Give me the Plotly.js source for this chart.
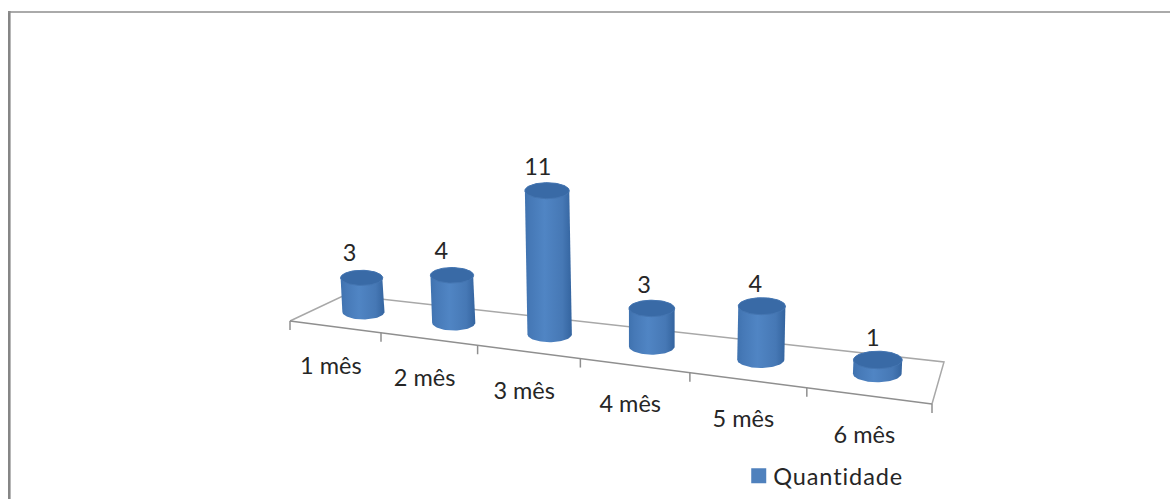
<!DOCTYPE html>
<html>
<head>
<meta charset="utf-8">
<script src="https://cdn.plot.ly/plotly-3.0.1.min.js"></script>
<style>
html,body{margin:0;padding:0;background:#fff}
#chart{width:1170px;height:499px}
/* tighter key-to-text gap and wider tracking for the legend entry */
.legendtext{letter-spacing:0.9px;transform:translateX(-5.5px)}
</style>
</head>
<body>
<div id="chart"></div>
<script>
// Chart data
const categories = ['1 mês', '2 mês', '3 mês', '4 mês', '5 mês', '6 mês'];
const quantidade = [3, 4, 11, 3, 4, 1];
const seriesName = 'Quantidade';

// Floor of the 3D scene in plot units: front-left, front-right, back-right, back-left
const FL = [290, 321], FR = [932, 404], BR = [944, 362], BL = [345, 295];
const FORESHORTEN = 1.211;   // spacing grows towards the viewer on the right

const n = categories.length;
function floorPoint(u, t) {
  const s = u / n;
  const q = s / (s + (1 - s) * FORESHORTEN);
  const fx = FL[0] + (FR[0] - FL[0]) * q, fy = FL[1] + (FR[1] - FL[1]) * q;
  const bx = BL[0] + (BR[0] - BL[0]) * q, by = BL[1] + (BR[1] - BL[1]) * q;
  return [fx + (bx - fx) * t, fy + (by - fy) * t];
}

const traces = [];
const lineTrace = (pts, color, width) => ({
  type: 'scatter', mode: 'lines', x: pts.map(p => p[0]), y: pts.map(p => p[1]),
  line: {color, width}, hoverinfo: 'skip', showlegend: false
});

// Floor outline and category ticks
traces.push(lineTrace([floorPoint(0, 0), floorPoint(0, 1), floorPoint(n, 1), floorPoint(n, 0)], '#a8a8a8', 1.5));
traces.push(lineTrace([floorPoint(0, 0), floorPoint(n, 0)], '#8f8f8f', 1.5));
for (let i = 0; i <= n; i++) {
  const p = floorPoint(i, 0);
  traces.push(lineTrace([p, [p[0], p[1] + 9]], '#8f8f8f', 1.5));
}

// Cylinders: geometry follows the value and the perspective at each category
const DEPTH = 0.55, FLAT = 0.36, STEPS = 40, RISE = 0.009;
const labelX = [], labelY = [], catX = [], catY = [];
quantidade.forEach((v, i) => {
  const c = floorPoint(i + 0.5, DEPTH);
  const spacing = Math.abs(floorPoint(i + 1, DEPTH)[0] - floorPoint(i, DEPTH)[0]);
  const r = 12.3 + 0.1 * spacing, ry = r * FLAT;
  const unit = 4.6 + 0.0735 * spacing;         // plot units per quantity at this depth
  const h = unit * v * (1 + RISE * v);         // higher points sit closer to the camera
  const topC = [c[0] + 0.00018 * (c[0] - 650) * h, c[1] - h];
  const body = [];
  for (let k = 0; k <= STEPS; k++) {           // lower rim, left to right
    const a = Math.PI * k / STEPS;
    body.push([c[0] - r * Math.cos(a), c[1] + ry * Math.sin(a)]);
  }
  for (let k = 0; k <= STEPS; k++) {           // upper rim, right to left
    const a = Math.PI * k / STEPS;
    body.push([topC[0] + r * Math.cos(a), topC[1] - ry * Math.sin(a)]);
  }
  body.push(body[0]);
  const cap = [];
  for (let k = 0; k <= 2 * STEPS; k++) {
    const a = Math.PI * k / STEPS;
    cap.push([topC[0] + r * Math.cos(a), topC[1] + ry * Math.sin(a)]);
  }
  traces.push({
    type: 'scatter', mode: 'lines', x: body.map(p => p[0]), y: body.map(p => p[1]),
    fill: 'toself', line: {width: 0, color: 'rgba(0,0,0,0)'},
    fillgradient: {type: 'horizontal',
      colorscale: [[0, '#3f72af'], [0.12, '#4679b7'], [0.42, '#5085c4'], [0.8, '#4678b5'], [1, '#34649f']]},
    hoverinfo: 'skip', showlegend: false
  });
  traces.push({
    type: 'scatter', mode: 'lines', x: cap.map(p => p[0]), y: cap.map(p => p[1]),
    fill: 'toself', fillcolor: '#396aa6', line: {width: 1, color: '#4576b2'},
    hoverinfo: 'skip', showlegend: false
  });
  labelX.push(topC[0] - 12 + 1.4 * i);
  labelY.push(topC[1] - (23 - 0.7 * i));
  const m = floorPoint(i + 0.5, 0);
  catX.push(m[0] - 4);
  catY.push(m[1] + 41);
});

const TEXT_FONT = {family: 'Lato, "Open Sans", sans-serif', size: 23.5, color: '#262626'};

// Value labels above each cylinder
traces.push({
  type: 'scatter', mode: 'text', x: labelX, y: labelY, text: quantidade.map(String),
  textposition: 'middle center', textfont: TEXT_FONT, hoverinfo: 'skip', showlegend: false
});
// Category labels below the floor
traces.push({
  type: 'scatter', mode: 'text', x: catX, y: catY, text: categories,
  textposition: 'middle center', textfont: TEXT_FONT, hoverinfo: 'skip', showlegend: false
});
// Legend entry for the series
traces.push({
  type: 'scatter', mode: 'markers', x: [null], y: [null], name: seriesName,
  marker: {symbol: 'square', size: 15, color: '#4f81bd'}, showlegend: true
});

const layout = {
  width: 1170, height: 499,
  margin: {l: 0, r: 0, t: 0, b: 0},
  paper_bgcolor: '#ffffff', plot_bgcolor: '#ffffff',
  xaxis: {range: [0, 1170], visible: false, fixedrange: true},
  yaxis: {range: [499, 0], visible: false, fixedrange: true},
  showlegend: true,
  legend: {x: 0.6314, y: 0.09, xanchor: 'left', yanchor: 'top', itemwidth: 30,
           font: {family: 'Lato, "Open Sans", sans-serif', size: 23.5, color: '#262626'},
           bgcolor: 'rgba(0,0,0,0)'},
  shapes: [
    {type: 'line', xref: 'x', yref: 'y', x0: 9.3, x1: 9.3, y0: 11, y1: 499, line: {color: '#868686', width: 2.6}},
    {type: 'line', xref: 'x', yref: 'y', x0: 8, x1: 1170, y0: 12, y1: 12, line: {color: '#8e8e8e', width: 1.6}}
  ]
};

Plotly.newPlot('chart', traces, layout, {displayModeBar: false, staticPlot: true});
</script>
</body>
</html>
